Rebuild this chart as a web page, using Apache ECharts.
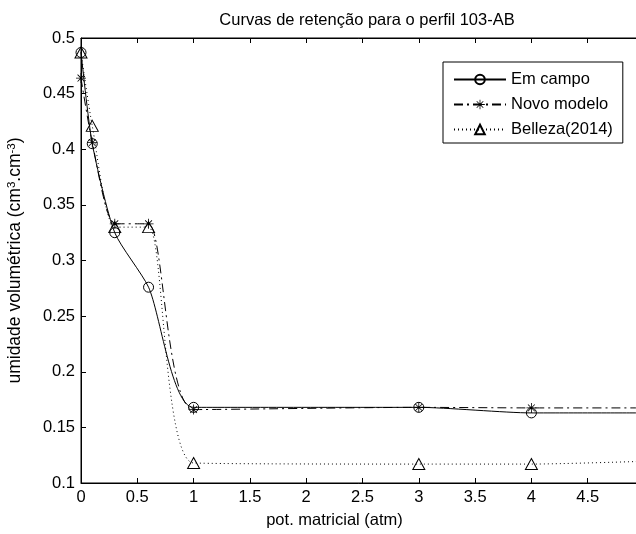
<!DOCTYPE html>
<html>
<head>
<meta charset="utf-8">
<script src="https://cdn.jsdelivr.net/npm/echarts@6/dist/echarts.min.js"></script>
<style>html,body{margin:0;padding:0;background:#fff}#c{width:636px;height:534px}</style>
</head>
<body>
<div id="c"></div>
<script>
// ---- data ----
const titleText = 'Curvas de retenção para o perfil 103-AB';
const xName = 'pot. matricial (atm)';
const seriesNames = ['Em campo', 'Novo modelo', 'Belleza(2014)'];
const campoX = [0, 0.1, 0.3, 0.6, 1, 3, 4, 5];
const campoY = [0.487, 0.405, 0.325, 0.276, 0.168, 0.168, 0.163, 0.163];
const novoX  = [0, 0.1, 0.3, 0.6, 1, 3, 4, 5];
const novoY  = [0.464, 0.406, 0.333, 0.333, 0.166, 0.168, 0.1675, 0.1675];
const bellX  = [0, 0.1, 0.3, 0.6, 1, 3, 4, 5];
const bellY  = [0.487, 0.421, 0.330, 0.330, 0.118, 0.117, 0.117, 0.1195];
const xTicks = {min: 0, max: 5, interval: 0.5};
const yTicks = {min: 0.1, max: 0.5, interval: 0.05};

const FONT = 'Liberation Sans';
const FS = 16.5;
const pairs = (xs, ys) => xs.map((x, i) => [x, ys[i]]);
const starPath = 'path://M0,9.2L20,9.2L20,10.8L0,10.8Z M9.2,0L10.8,0L10.8,20L9.2,20Z M2.6,3.7L3.7,2.6L17.4,16.3L16.3,17.4Z M16.3,2.6L17.4,3.7L3.7,17.4L2.6,16.3Z';

const chart = echarts.init(document.getElementById('c'), null, {renderer: 'canvas'});
const axisCommon = {
  axisLine: {show: true, lineStyle: {color: '#000', width: 1}},
  axisTick: {show: true, inside: true, length: 5, lineStyle: {color: '#000'}},
  splitLine: {show: false},
  axisLabel: {color: '#000', fontFamily: FONT, fontSize: FS}
};
const SM = 0.22;
chart.setOption({
  animation: false,
  backgroundColor: '#fff',
  title: {
    text: titleText, left: 362, top: 7, textAlign: 'center',
    textStyle: {color: '#000', fontFamily: FONT, fontSize: FS, fontWeight: 'normal'}
  },
  legend: {
    data: seriesNames, orient: 'vertical', left: 443, top: 62,
    padding: [9, 10, 5, 10], itemWidth: 52, itemHeight: 12, itemGap: 8,
    borderColor: '#000', borderWidth: 1, backgroundColor: '#fff',
    textStyle: {color: '#000', fontFamily: FONT, fontSize: FS}
  },
  grid: {left: 81, top: 38, right: -8, bottom: 51, show: true, borderColor: '#000', borderWidth: 1,
    containLabel: false, outerBoundsMode: 'none'},
  xAxis: [
    Object.assign({}, axisCommon, {
      type: 'value', position: 'bottom', min: xTicks.min, max: xTicks.max, interval: xTicks.interval,
      name: xName, nameLocation: 'middle', nameGap: 29,
      nameTextStyle: {color: '#000', fontFamily: FONT, fontSize: FS, padding: [0, 56, 0, 0]},
      axisLabel: {color: '#000', fontFamily: FONT, fontSize: FS, margin: 6}
    }),
    Object.assign({}, axisCommon, {
      type: 'value', position: 'top', min: xTicks.min, max: xTicks.max, interval: xTicks.interval,
      axisLabel: {show: false}
    })
  ],
  yAxis: Object.assign({}, axisCommon, {
    type: 'value', min: yTicks.min, max: yTicks.max, interval: yTicks.interval,
    name: 'umidade volumétrica (cm{sup|3}.cm{sup|-3})', nameLocation: 'middle', nameGap: 56,
    nameTextStyle: {color: '#000', fontFamily: FONT, fontSize: 17.5, lineHeight: 19,
      rich: {sup: {color: '#000', fontFamily: FONT, fontSize: 11.5, verticalAlign: 'top', lineHeight: 11}}},
    axisLabel: {color: '#000', fontFamily: FONT, fontSize: FS, margin: 6}
  }),
  series: [
    {
      name: seriesNames[0], type: 'line', data: pairs(campoX, campoY), smooth: SM,
      symbol: 'circle', symbolSize: 10, showAllSymbol: true,
      lineStyle: {color: '#000', width: 1, type: 'solid'},
      itemStyle: {color: 'rgba(0,0,0,0)', borderColor: '#000', borderWidth: 1}
    },
    {
      name: seriesNames[1], type: 'line', data: pairs(novoX, novoY), smooth: SM,
      symbol: starPath, symbolSize: 10, showAllSymbol: true,
      lineStyle: {color: '#000', width: 1, type: [9, 4, 2, 4]},
      itemStyle: {color: '#000', borderWidth: 0}
    },
    {
      name: seriesNames[2], type: 'line', data: pairs(bellX, bellY), smooth: SM,
      symbol: 'triangle', symbolSize: [12, 11], showAllSymbol: true,
      lineStyle: {color: '#000', width: 1, type: [1, 3]},
      itemStyle: {color: 'rgba(0,0,0,0)', borderColor: '#000', borderWidth: 1}
    }
  ]
});
</script>
</body>
</html>
